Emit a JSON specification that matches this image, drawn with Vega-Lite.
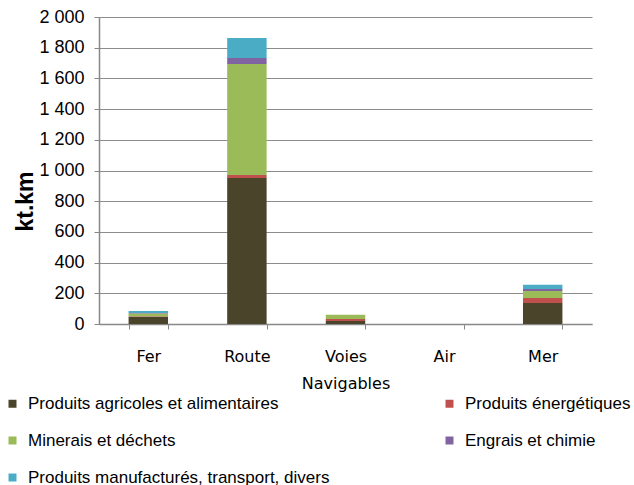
{
  "$schema": "https://vega.github.io/schema/vega-lite/v6.json",
  "autosize": "none",
  "width": 493,
  "height": 307,
  "padding": {"left": 99, "top": 17, "right": 42, "bottom": 161},
  "background": "white",
  "data": {"values": [
    {"mode": "Fer", "cat": "Produits agricoles et alimentaires", "o": 1, "v": 48},
    {"mode": "Fer", "cat": "Produits énergétiques", "o": 2, "v": 3},
    {"mode": "Fer", "cat": "Minerais et déchets", "o": 3, "v": 18},
    {"mode": "Fer", "cat": "Engrais et chimie", "o": 4, "v": 2},
    {"mode": "Fer", "cat": "Produits manufacturés, transport, divers", "o": 5, "v": 14},
    {"mode": "Route", "cat": "Produits agricoles et alimentaires", "o": 1, "v": 951},
    {"mode": "Route", "cat": "Produits énergétiques", "o": 2, "v": 20},
    {"mode": "Route", "cat": "Minerais et déchets", "o": 3, "v": 723},
    {"mode": "Route", "cat": "Engrais et chimie", "o": 4, "v": 39},
    {"mode": "Route", "cat": "Produits manufacturés, transport, divers", "o": 5, "v": 130},
    {"mode": "Voies Navigables", "cat": "Produits agricoles et alimentaires", "o": 1, "v": 20},
    {"mode": "Voies Navigables", "cat": "Produits énergétiques", "o": 2, "v": 13},
    {"mode": "Voies Navigables", "cat": "Minerais et déchets", "o": 3, "v": 28},
    {"mode": "Voies Navigables", "cat": "Engrais et chimie", "o": 4, "v": 0},
    {"mode": "Voies Navigables", "cat": "Produits manufacturés, transport, divers", "o": 5, "v": 0},
    {"mode": "Air", "cat": "Produits agricoles et alimentaires", "o": 1, "v": 0},
    {"mode": "Air", "cat": "Produits énergétiques", "o": 2, "v": 0},
    {"mode": "Air", "cat": "Minerais et déchets", "o": 3, "v": 0},
    {"mode": "Air", "cat": "Engrais et chimie", "o": 4, "v": 0},
    {"mode": "Air", "cat": "Produits manufacturés, transport, divers", "o": 5, "v": 0},
    {"mode": "Mer", "cat": "Produits agricoles et alimentaires", "o": 1, "v": 137},
    {"mode": "Mer", "cat": "Produits énergétiques", "o": 2, "v": 32},
    {"mode": "Mer", "cat": "Minerais et déchets", "o": 3, "v": 46},
    {"mode": "Mer", "cat": "Engrais et chimie", "o": 4, "v": 13},
    {"mode": "Mer", "cat": "Produits manufacturés, transport, divers", "o": 5, "v": 28}
  ]},
  "mark": {"type": "bar"},
  "encoding": {
    "x": {
      "field": "mode", "type": "nominal", "sort": null,
      "scale": {"paddingInner": 0.6, "paddingOuter": 0.3},
      "axis": {
        "title": null, "labelAngle": 0,
        "labelExpr": "isValid(datum.value) ? split(datum.value, ' ') : ''",
        "labelFont": "DejaVu Sans", "labelFontSize": 16, "labelColor": "#000",
        "labelPadding": 19, "labelLineHeight": 27,
        "tickBand": "extent", "tickSize": 5, "tickColor": "#888",
        "domainColor": "#888", "domainWidth": 1.5
      }
    },
    "y": {
      "field": "v", "type": "quantitative", "aggregate": "sum",
      "stack": "zero",
      "scale": {"domain": [0, 2000]},
      "axis": {
        "title": "kt.km", "values": [0,200,400,600,800,1000,1200,1400,1600,1800,2000],
        "labelExpr": "replace(format(datum.value, ','), ',', ' ')",
        "labelFont": "Liberation Sans", "labelFontSize": 18, "labelColor": "#000",
        "labelPadding": 10, "tickSize": 5, "tickColor": "#888",
        "gridColor": "#8c8c8c", "gridWidth": 1.2,
        "domainColor": "#888", "domainWidth": 1.5,
        "titleFont": "Liberation Sans", "titleFontSize": 23, "titleFontWeight": "bold",
        "titleColor": "#000", "titleX": -74, "titleY": 184,
        "titleAngle": -90, "titleAlign": "center", "titleBaseline": "middle"
      }
    },
    "order": {"field": "o", "type": "quantitative", "aggregate": "min"},
    "color": {
      "field": "cat", "type": "nominal",
      "scale": {
        "domain": ["Produits agricoles et alimentaires", "Produits énergétiques", "Minerais et déchets", "Engrais et chimie", "Produits manufacturés, transport, divers"],
        "range": ["#4A452A", "#C0504D", "#9BBB59", "#8064A2", "#4BACC6"]
      },
      "legend": {
        "title": null, "orient": "none", "legendX": -95, "legendY": 378,
        "direction": "horizontal", "columns": 2, "columnPadding": 111, "rowPadding": 19,
        "symbolType": "square", "symbolSize": 64, "symbolStrokeWidth": 0, "symbolOpacity": 1,
        "labelFont": "Liberation Sans", "labelFontSize": 17, "labelColor": "#000",
        "labelLimit": 400, "labelOffset": 7
      }
    }
  },
  "config": {"view": {"stroke": null}}
}
